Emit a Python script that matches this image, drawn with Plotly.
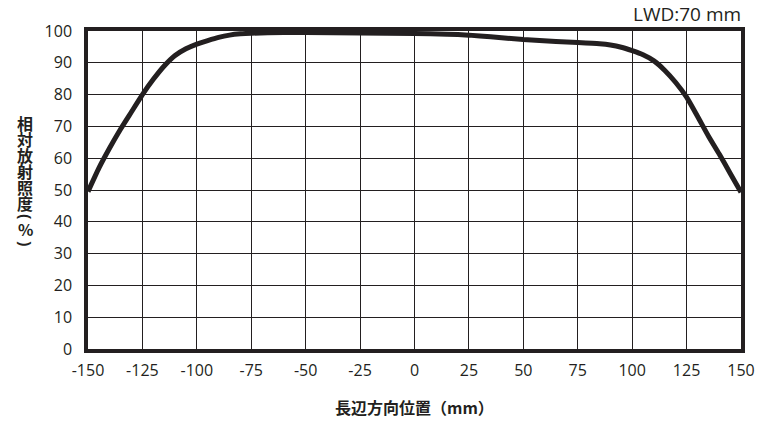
import plotly.graph_objects as go

# 長辺方向位置 (mm) と 相対放射照度 (%)
pos_mm = [-150, -145, -140, -135, -130, -125, -120, -115, -110, -105, -100,
          -95, -90, -85, -80, -75, -60, -50, -25, 0, 15, 25, 35, 50, 65, 75,
          85, 90, 95, 100, 105, 110, 115, 120, 125, 130, 135, 140, 145, 150]
irradiance = [49.5, 56.9, 63.3, 69.2, 74.6, 80, 84.8, 89.0, 92.3, 94.4, 95.9,
              97, 98, 98.7, 99.1, 99.3, 99.5, 99.5, 99.4, 99.2, 99.0, 98.7,
              98.2, 97.3, 96.7, 96.4, 96.0, 95.6, 94.9, 93.8, 92.5, 90.6,
              87.6, 83.8, 79.2, 73.2, 67, 61.3, 55.3, 49.3]

x_ticks = list(range(-150, 151, 25))
x_labels = [str(v) for v in x_ticks]  # 通常のハイフンで表示
y_ticks = list(range(0, 101, 10))

ink = "#231f20"
tick_font = dict(family="Open Sans", size=16, color=ink)
cjk_font = dict(family="Noto Sans CJK JP", size=16, color=ink, weight="bold")
paren_font = dict(family="Open Sans", size=16, color=ink, weight="bold")

fig = go.Figure()
fig.add_trace(go.Scatter(
    x=pos_mm, y=irradiance, mode="lines",
    line=dict(color=ink, width=5, shape="spline", smoothing=0.5),
    showlegend=False, hoverinfo="skip",
))

fig.update_xaxes(
    range=[-150, 150], tickvals=x_ticks, ticktext=x_labels,
    ticks="", ticklabelstandoff=4,
    showgrid=True, gridcolor=ink, gridwidth=1.3, zeroline=False,
    showline=True, linecolor=ink, linewidth=3.5, mirror=True,
    tickfont=tick_font,
)
fig.update_yaxes(
    range=[0, 100], tickvals=y_ticks, ticks="", ticklabelstandoff=9,
    showgrid=True, gridcolor=ink, gridwidth=1.3, zeroline=False,
    showline=True, linecolor=ink, linewidth=3.5, mirror=True,
    tickfont=tick_font,
)

# 縦書きの軸タイトル（1文字ずつ、括弧は90度回転）
y_title = ["相", "対", "放", "射", "照", "度", "(", "%", ")"]
y_px = [123, 139, 155, 171, 187, 203, 216, 229, 243]
for ch, py in zip(y_title, y_px):
    is_paren = ch in "()"
    fig.add_annotation(
        text=ch, xref="paper", yref="paper",
        x=(25 - 88) / 653, y=(349 - py) / 318,
        textangle=90 if is_paren else 0,
        showarrow=False, font=paren_font if is_paren else cjk_font,
        xanchor="center", yanchor="middle",
    )

fig.add_annotation(
    text="長辺方向位置（mm）", xref="paper", yref="paper",
    x=(414 - 88) / 653, y=(349 - 407) / 318, showarrow=False, font=cjk_font,
    xanchor="center", yanchor="middle",
)
fig.add_annotation(
    text="LWD:70 mm", xref="paper", yref="paper",
    x=(743 - 88) / 653, y=(349 - 14) / 318, showarrow=False,
    font=dict(family="Open Sans", size=19, color=ink),
    xanchor="right", yanchor="middle",
)

fig.update_layout(
    width=782, height=424,
    margin=dict(l=88, r=41, t=31, b=75),
    paper_bgcolor="white", plot_bgcolor="white",
)

fig.write_html("out.html", config={"displayModeBar": False},
               post_script="document.body.style.margin='0';")
